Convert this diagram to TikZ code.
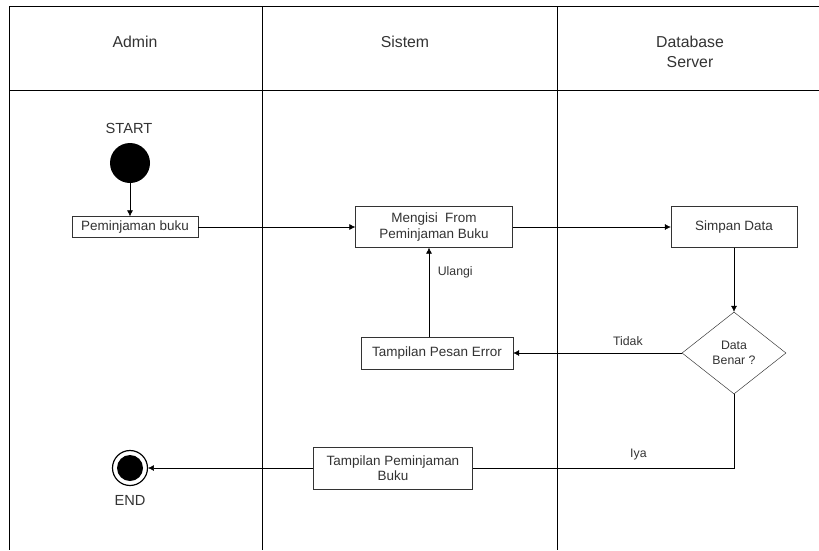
\documentclass[tikz,border=0pt]{standalone}
\usepackage{fontspec}
\setmainfont{Liberation Sans}
\usetikzlibrary{shapes.geometric,arrows.meta}

\begin{document}
\begin{tikzpicture}[x=0.03cm,y=-0.03cm,
  >={Latex[length=5pt,width=5pt]},
  lane/.style={line width=0.7pt},
  head/.style={text=black!80,font=\fontsize{13.5}{17}\selectfont,align=center},
  box/.style={draw=black!80,fill=white,text=black!80,font=\fontsize{11.5}{13}\selectfont,align=center,inner sep=0pt},
  lbl/.style={text=black!80,font=\fontsize{10.5}{12}\selectfont}]
\useasboundingbox (0,0) rectangle (819,550);

% Lanes
\draw[lane] (819,6) -- (9,6) -- (9,550);
\draw[lane] (9,90) -- (819,90);
\draw[lane] (262,6) -- (262,550);
\draw[lane] (557,6) -- (557,550);

% Lane titles
\node[head] (admin) at (135,42) {Admin};
\node[head] (sistem) at (405,42) {Sistem};
\node[head] (server) at (690,52) {Database\\Server};

% Start and end
\node[lbl,font=\fontsize{12.5}{14}\selectfont] (startlbl) at (129,128) {START};
\node[circle,fill=black,minimum size=1.2cm,inner sep=0pt] (start) at (130,163) {};
\node[circle,draw,line width=1pt,minimum size=1.05cm,inner sep=0pt] (end) at (130,468) {};
\node[circle,fill=black,minimum size=0.78cm,inner sep=0pt] (endin) at (end) {};
\node[lbl,font=\fontsize{12.5}{14}\selectfont] (endlbl) at (130,500) {END};

% Steps
\node[box,minimum width=3.78cm,minimum height=0.63cm] (pinjam) at (135,227) {Peminjaman buku};
\node[box,minimum width=4.71cm,minimum height=1.23cm] (mengisi) at (434,227) {Mengisi~ From\\Peminjaman Buku};
\node[box,minimum width=3.78cm,minimum height=1.23cm] (simpan) at (734,227) {Simpan Data};
\node[box,diamond,font=\fontsize{10.5}{12.5}\selectfont,minimum width=3.12cm,minimum height=2.46cm] (cek) at (734,353) {Data\\Benar ?};
\node[box,minimum width=4.56cm,minimum height=0.96cm] (error) at (437,353) {Tampilan Pesan Error};
\node[box,minimum width=4.77cm,minimum height=1.26cm] (tampil) at (393,468) {Tampilan Peminjaman\\Buku};

% Flow
\draw[->] (start) -- (start |- pinjam.north);
\draw[->] (pinjam) -- (mengisi);
\draw[->] (mengisi) -- (simpan);
\draw[->] (simpan) -- (cek);
\draw[->] (cek.west) -- (error.east) node[lbl,pos=0.32,above=3pt] {Tidak};
\draw[->] ([xshift=-0.24cm]error.north) -- ([xshift=-0.24cm]error.north |- mengisi.south)
  node[lbl,pos=0.72,right=4pt] {Ulangi};
\draw (cek.south) |- (tampil.east) node[lbl,pos=0.683,above=3pt] {Iya};
\draw[->] (tampil) -- (end);
\end{tikzpicture}
\end{document}
